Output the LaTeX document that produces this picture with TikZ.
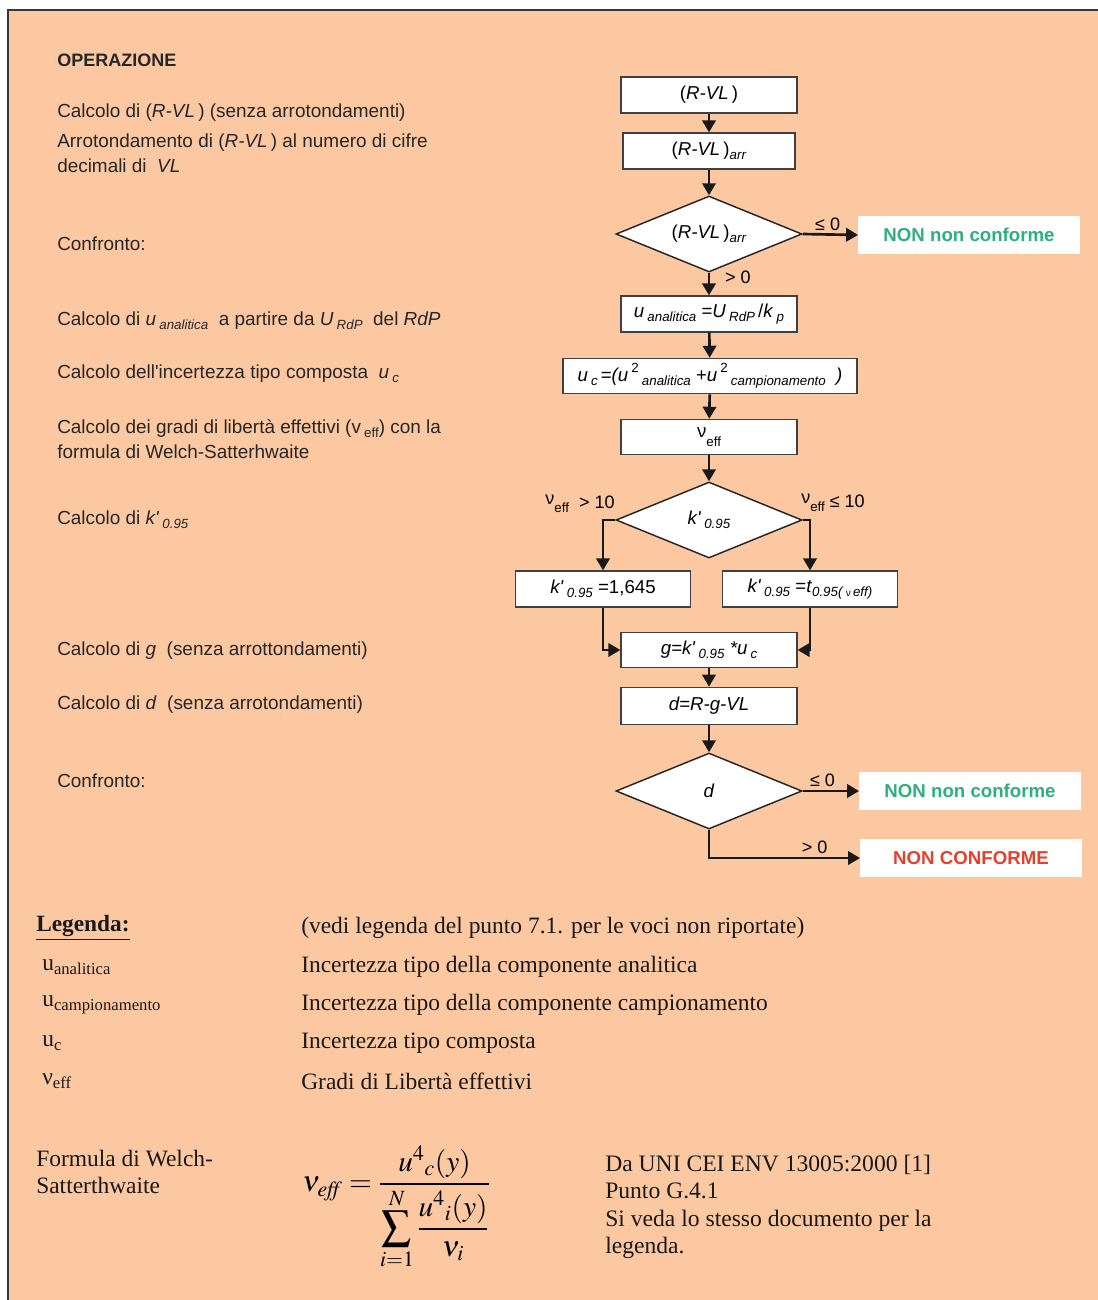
\documentclass[tikz,border=0pt]{standalone}
\usepackage{mathptmx}
\usepackage[no-math]{fontspec}
\setmainfont{Liberation Sans}
\newfontfamily\timesfont{Liberation Serif}
\usetikzlibrary{shapes.geometric, arrows.meta}
\definecolor{peach}{RGB}{252,200,162}
\definecolor{okgreen}{RGB}{44,176,124}
\definecolor{kored}{RGB}{232,62,44}
\definecolor{framegray}{RGB}{55,55,55}
\newcommand{\lowtxt}[1]{\raisebox{-0.4ex}{\fontsize{10}{10}\selectfont #1}}
\newcommand{\hightxt}[1]{\raisebox{0.9ex}{\fontsize{10}{10}\selectfont #1}}
\newcommand{\lowleg}[1]{\raisebox{-0.35ex}{\fontsize{12.5}{12.5}\selectfont #1}}
\newcommand{\kp}{\textit{k\textquotesingle}}
\tikzstyle{calcbox} = [rectangle, draw=black!75, line width=0.9pt, fill=white, minimum width=132pt, minimum height=27pt, inner sep=2pt, text centered]
\tikzstyle{decision} = [diamond, draw=black!85, line width=1.1pt, fill=white, aspect=2.45, minimum width=139.5pt, minimum height=57pt, inner sep=0pt]
\tikzstyle{outcome} = [rectangle, fill=white, minimum width=166pt, minimum height=28.5pt, font=\fontsize{14}{16}\selectfont\bfseries]
\tikzstyle{arrow} = [line width=2pt, draw=black!90, -{Triangle[length=9pt,width=10pt]}]
\tikzstyle{optext} = [anchor=west, align=left, inner sep=0pt, text=black!85, font=\fontsize{14.2}{18.75}\selectfont]
\tikzstyle{legtext} = [anchor=west, align=left, inner sep=0pt, text=black!90, font=\timesfont\fontsize{17.6}{20.6}\selectfont]
\tikzstyle{branch} = [font=\fontsize{13.5}{15}\selectfont, inner sep=2pt]

\begin{document}
\begin{tikzpicture}[x=0.75pt, y=-0.75pt, font=\fontsize{14}{16}\selectfont]

\useasboundingbox (0,0) rectangle (1098,1300);
\fill[white] (0,0) rectangle (1098,1300);
\fill[peach] (8,10) rectangle (1098,1300);
\draw[framegray, line width=1.2pt] (8,1300) -- (8,10) -- (1098,10);

% operazioni (colonna sinistra)
\node (opTitle) [optext, font=\fontsize{13.5}{15}\selectfont\bfseries] at (57,60) {OPERAZIONE};
\node (txtRVL) [optext] at (57,113) {Calcolo di (\textit{R-VL}\,) (senza arrotondamenti)};
\node (txtArr) [optext] at (57,153) {Arrotondamento di (\textit{R-VL}\,) al numero di cifre\\decimali di \ \textit{VL}};
\node (txtConfA) [optext] at (57,244) {Confronto:};
\node (txtUan) [optext] at (57,321) {Calcolo di \textit{u}\,\lowtxt{\textit{analitica}} \ a partire da \textit{U}\,\lowtxt{\textit{RdP}} \ del \textit{RdP}};
\node (txtUc) [optext] at (57,374) {Calcolo dell\textquotesingle incertezza tipo composta \ \textit{u}\,\lowtxt{\textit{c}}};
\node (txtNu) [optext] at (57,439) {Calcolo dei gradi di libertà effettivi (v\,\lowtxt{eff}) con la\\formula di Welch-Satterhwaite};
\node (txtK) [optext] at (57,520) {Calcolo di \kp\,\lowtxt{\textit{0.95}}};
\node (txtG) [optext] at (57,651) {Calcolo di \textit{g} \ (senza arrottondamenti)};
\node (txtD) [optext] at (57,705) {Calcolo di \textit{d} \ (senza arrotondamenti)};
\node (txtConfB) [optext] at (57,781) {Confronto:};

% diagramma di flusso
\node (rvl) [calcbox] at (709,95) {(\textit{R-VL}\,)};
\node (rvlarr) [calcbox, minimum width=129pt] at (709,151) {(\textit{R-VL}\,)\lowtxt{\textit{arr}}};
\node (decA) [decision] at (709,234) {(\textit{R-VL}\,)\lowtxt{\textit{arr}}};
\node (nonA) [outcome, text=okgreen] at (969,235) {NON non conforme};
\node (uan) [calcbox] at (709,314) {\textit{u}\,\lowtxt{\textit{analitica}} =\textit{U}\,\lowtxt{\textit{RdP}}\,/\textit{k}\,\lowtxt{\textit{p}}};
\node (uc) [calcbox, minimum width=220.5pt, minimum height=26.5pt] at (710,376) {\textit{u}\,\lowtxt{\textit{c}}\,=\textit{(u}\,\hightxt{2}\,\lowtxt{\textit{analitica}} +\textit{u}\,\hightxt{2}\,\lowtxt{\textit{campionamento}} \ \textit{)}};
\node (nueff) [calcbox, minimum height=26.5pt] at (709,437) {\raisebox{0.5ex}{ν}\lowtxt{eff}};
\node (decK) [decision] at (709,520) {\kp\,\lowtxt{\textit{0.95}}};
\node (kone) [calcbox, minimum width=131pt] at (603,589) {\kp\,\lowtxt{\textit{0.95}} =1,645};
\node (ktwo) [calcbox, minimum width=131pt] at (810,589) {\kp\,\lowtxt{\textit{0.95}} =\textit{t}\lowtxt{\textit{0.95(}\,{\fontsize{7.5}{7.5}\selectfont ν}\,\textit{eff)}}};
\node (gval) [calcbox, minimum height=26.5pt] at (709,650) {\textit{g=}\kp\,\lowtxt{\textit{0.95}} \textit{*u}\,\lowtxt{\textit{c}}};
\node (dval) [calcbox, minimum height=28pt] at (709,706) {\textit{d=R-g-VL}};
\node (decD) [decision] at (709,791) {\textit{d}};
\node (nonB) [outcome, text=okgreen] at (970,791) {NON non conforme};
\node (nonC) [outcome, text=kored] at (971,858) {NON CONFORME};
\node (lblGt) [branch] at (580,504) {\raisebox{0.4ex}{ν}\lowtxt{eff} \ > 10};
\node (lblLe) [branch] at (833,503) {\raisebox{0.4ex}{ν}\lowtxt{eff} ≤ 10};

\draw [arrow] (rvl) -- (rvlarr);
\draw [arrow] (rvlarr) -- (decA);
\draw [arrow] (decA.east) -- node[branch, above, pos=0.45] {≤ 0} (nonA.west);
\draw [arrow] (decA.south) -- node[branch, right, pos=0.2, xshift=9pt] {> 0} (uan.north);
\draw [arrow] (uan) -- (uc);
\draw [arrow] (uc) -- (nueff);
\draw [arrow] (nueff) -- (decK);
\draw [arrow] (decK.west) -| (kone.north);
\draw [arrow] (decK.east) -| (ktwo.north);
\draw [arrow] (kone.south) |- (gval.west);
\draw [arrow] (ktwo.south) |- (gval.east);
\draw [arrow] (gval) -- (dval);
\draw [arrow] (dval) -- (decD);
\draw [arrow] (decD.east) -- node[branch, above, pos=0.35] {≤ 0} (nonB.west);
\draw [arrow] (decD.south) |- node[branch, above, pos=0.85] {> 0} (nonC.west);

% legenda
\node (legTitle) [legtext, font=\timesfont\fontsize{17.5}{20}\selectfont\bfseries] at (36,928) {\underline{Legenda:}};
\node (legNote) [legtext] at (301,928) {(vedi legenda del punto 7.1. per le voci non riportate)};
\node (legUan) [legtext] at (42,967) {u\lowleg{analitica}};
\node (legUanD) [legtext] at (301,967) {Incertezza tipo della componente analitica};
\node (legUcamp) [legtext] at (42,1005) {u\lowleg{campionamento}};
\node (legUcampD) [legtext] at (301,1005) {Incertezza tipo della componente campionamento};
\node (legUc) [legtext] at (42,1043) {u\lowleg{c}};
\node (legUcD) [legtext] at (301,1043) {Incertezza tipo composta};
\node (legNu) [legtext] at (42,1081) {ν\lowleg{eff}};
\node (legNuD) [legtext] at (301,1081) {Gradi di Libertà effettivi};

% formula
\node (formName) [legtext] at (36,1172) {Formula di Welch-\\Satterthwaite};
\node (formula) [anchor=west, inner sep=0pt, font=\fontsize{22}{26}\selectfont] at (302,1208)
  {$\displaystyle \nu_{\mathit{eff}} = \frac{u^{4}{}_{c}(y)}{\displaystyle\sum_{i=1}^{N}\frac{u^{4}{}_{i}(y)}{\nu_{i}}}$};
\node (formRef) [legtext, font=\timesfont\fontsize{17.7}{20.6}\selectfont] at (605,1207) {Da UNI CEI ENV 13005:2000 [1]\\Punto G.4.1\\Si veda lo stesso documento per la\\legenda.};

\end{tikzpicture}
\end{document}
